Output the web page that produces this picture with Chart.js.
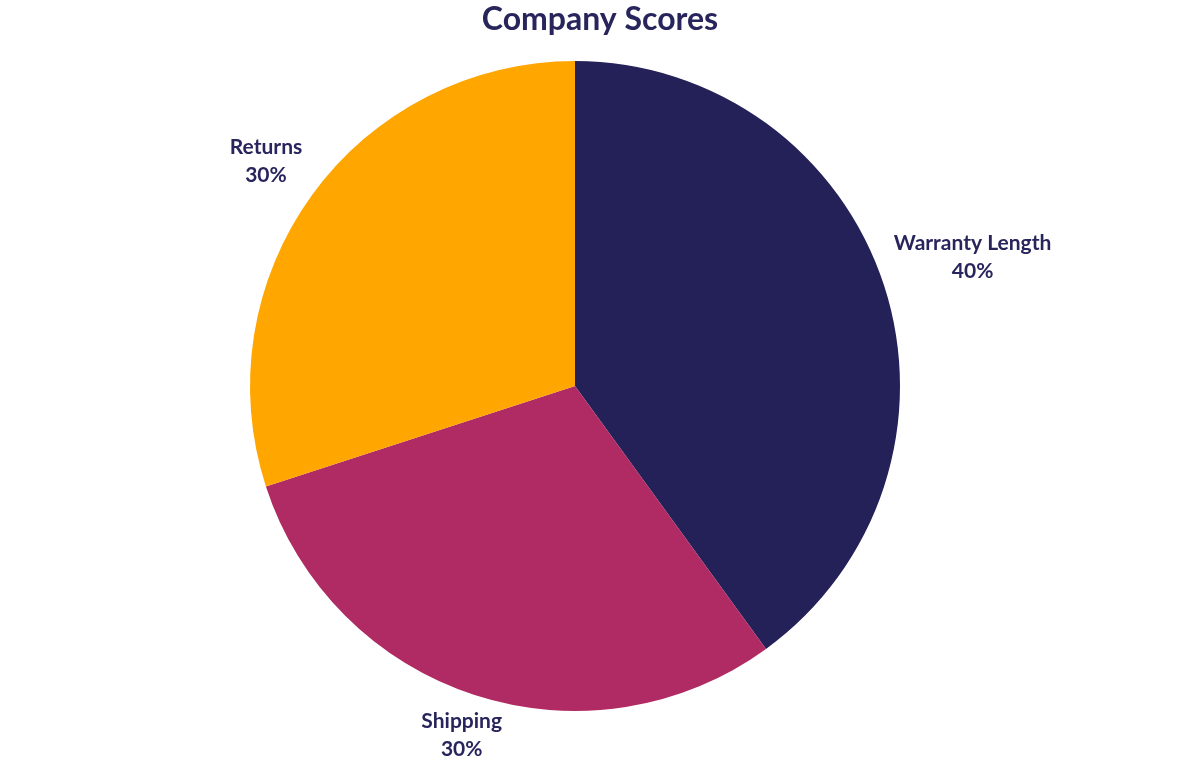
<!DOCTYPE html>
<html>
<head>
<meta charset="utf-8">
<script src="https://cdn.jsdelivr.net/npm/chart.js@4"></script>
<style>
  html, body { margin: 0; padding: 0; background: #fff; }
  #wrap { width: 1200px; height: 780px; }
</style>
</head>
<body>
<div id="wrap"><canvas id="myChart"></canvas></div>
<script>
var labels = ["Warranty Length", "Shipping", "Returns"]
var scores = [40, 30, 30]
var colors = ["#242158", "#b02a64", "#ffa600"]
var chartTitle = "Company Scores"

var textColor = "#27255c"
var labelFont = "bold 21px Lato"
var titleFont = "bold 32px Lato"
var lineGap = 28

// title centred on the whole canvas (the pie itself sits a little left of centre)
var pageTitle = {
    id: 'pageTitle',
    afterDraw: function(chart){
        var ctx = chart.ctx
        ctx.save()
        ctx.font = titleFont
        ctx.fillStyle = textColor
        ctx.textAlign = 'center'
        ctx.textBaseline = 'middle'
        ctx.fillText(chartTitle, chart.width / 2, 20)
        ctx.restore()
    }
}

// draws "name / pct%" outside each slice, box edge kept a fixed gap from the rim
var outsideLabels = {
    id: 'outsideLabels',
    afterDatasetsDraw: function(chart){
        var ctx = chart.ctx
        var meta = chart.getDatasetMeta(0)
        var total = scores.reduce(function(a, b){ return a + b }, 0)
        ctx.save()
        ctx.font = labelFont
        ctx.fillStyle = textColor
        ctx.textAlign = 'center'
        ctx.textBaseline = 'middle'
        meta.data.forEach(function(arc, i){
            var mid = (arc.startAngle + arc.endAngle) / 2
            var line1 = labels[i]
            var line2 = Math.round(scores[i] / total * 100) + '%'
            var w = Math.max(ctx.measureText(line1).width, ctx.measureText(line2).width)
            var h = 47
            var c = Math.abs(Math.cos(mid)), s = Math.abs(Math.sin(mid))
            var ext = Math.min(c > 0.001 ? (w / 2) / c : 1e9, s > 0.001 ? (h / 2) / s : 1e9)
            var d = arc.outerRadius + 17 + ext
            var cx = arc.x + Math.cos(mid) * d
            var cy = arc.y + Math.sin(mid) * d
            ctx.fillText(line1, cx, cy - lineGap / 2)
            ctx.fillText(line2, cx, cy + lineGap / 2)
        })
        ctx.restore()
    }
}

var ctx = document.getElementById('myChart')
var myPie = new Chart(ctx, {
    type: 'pie',
    data: {
        labels: labels,
        datasets: [{
            data: scores,
            backgroundColor: colors,
            hoverBackgroundColor: colors,
            borderWidth: 0
        }]
    },
    options: {
        responsive: true,
        maintainAspectRatio: false,
        animation: false,
        layout: { padding: { left: 0, right: 50, top: 61, bottom: 69 } },
        plugins: {
            legend: { display: false },
            tooltip: { enabled: false },
            title: { display: false }
        }
    },
    plugins: [outsideLabels, pageTitle]
})
</script>
</body>
</html>
